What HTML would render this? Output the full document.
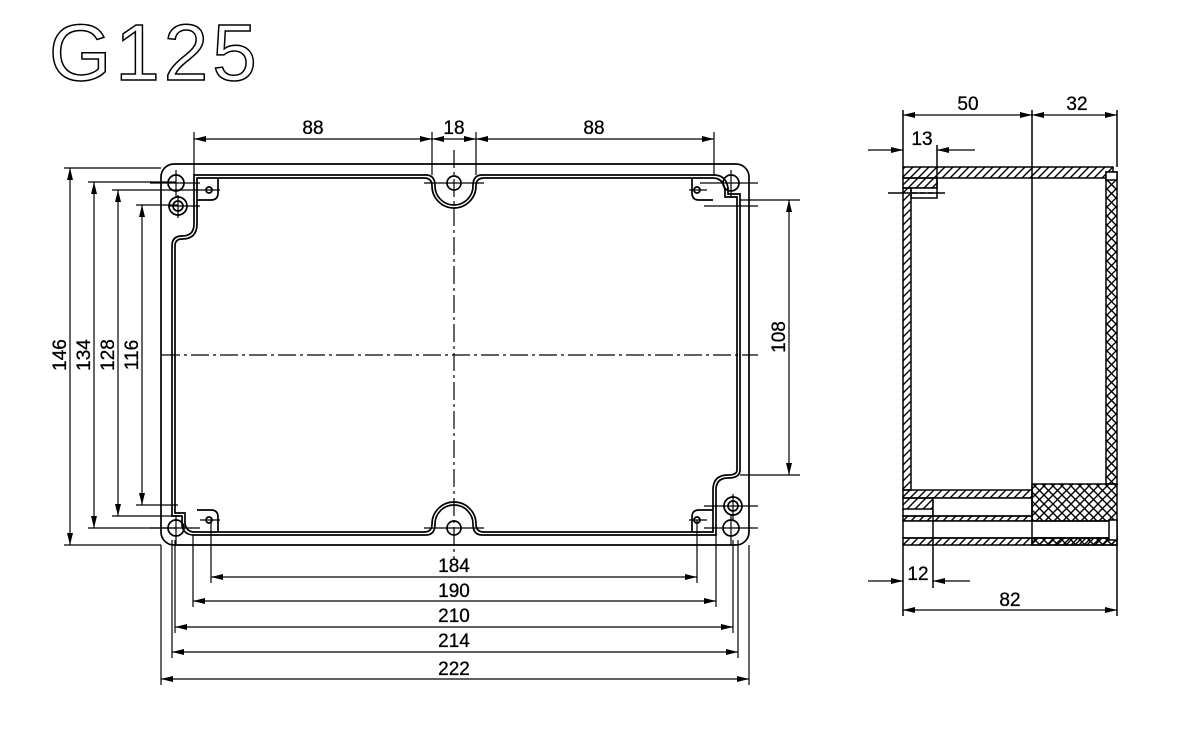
<!DOCTYPE html>
<html><head><meta charset="utf-8"><style>html,body{margin:0;padding:0;background:#fff}svg{display:block}</style></head><body>
<svg width="1178" height="732" viewBox="0 0 1178 732" xmlns="http://www.w3.org/2000/svg" font-family="Liberation Sans, sans-serif">
<defs>
<marker id="a" viewBox="0 0 12 6" refX="12" refY="3" markerWidth="12" markerHeight="6" orient="auto-start-reverse" markerUnits="userSpaceOnUse"><path d="M0,0L12,3L0,6z" fill="#000"/></marker>
<pattern id="h" width="8" height="8" patternUnits="userSpaceOnUse"><path d="M0,8L8,0M-2,2L2,-2M6,10L10,6" stroke="#000" stroke-width="1.4"/></pattern>
<pattern id="x" width="9" height="9" patternUnits="userSpaceOnUse"><path d="M0,9L9,0M0,0L9,9" stroke="#000" stroke-width="1.4"/></pattern>
</defs>
<text x="49" y="80" font-size="80" fill="none" stroke="#000" stroke-width="1.5" letter-spacing="4">G125</text>
<g fill="none" stroke="#000" stroke-width="1.7">
<rect x="161" y="164" width="588" height="381" rx="13"/>
<path d="M194,175 H426 Q435,175 435,186 A19,19 0 0 0 473,186 Q473,175 482,175 H714 Q726,175 728,188 V194 H740 V470 Q740,478 728,478 Q716,478 716,490 V535 H482 Q473,535 473,524 A19,19 0 0 0 435,524 Q435,535 426,535 H194 Q184,535 182,526 V516 H172 V246 Q172,236 182,236 Q194,236 194,224 Z"/>
<path d="M197,178 H424 Q432,178 432,186 A22,22 0 0 0 476,186 Q476,178 484,178 H713 Q723,178 725,190 V197 H737 V470 Q737,475 728,475 Q713,475 713,490 V532 H484 Q476,532 476,524 A22,22 0 0 0 432,524 Q432,532 424,532 H194 Q187,532 185,524 V513 H175 V246 Q175,239 182,239 Q197,239 197,224 Z"/>
<path d="M197,200 H211 Q218,200 218,193 V178 M713,200 H699 Q692,200 692,193 V178 M197,510 H211 Q218,510 218,517 V532 M713,510 H699 Q692,510 692,517 V532"/>
<circle cx="176" cy="183" r="8"/><circle cx="178" cy="206" r="9"/><circle cx="178" cy="206" r="5"/>
<circle cx="454" cy="183" r="7"/><circle cx="731" cy="183" r="8"/>
<circle cx="176" cy="528" r="8"/><circle cx="454" cy="528" r="7"/><circle cx="731" cy="528" r="8"/>
<circle cx="733" cy="506" r="9"/><circle cx="733" cy="506" r="5"/>
<circle cx="209" cy="190" r="3"/><circle cx="697" cy="190" r="3"/><circle cx="209" cy="520" r="3"/><circle cx="697" cy="520" r="3"/>
</g>
<g stroke="#000" stroke-width="1.2">
<path d="M162,355H758M454,150V560" stroke-dasharray="18,4,3,4"/>
<path d="M150,183H200M168,206H200M150,528H200M700,183H758M704,206H758M704,506H758M704,528H758M176,170V198M178,195V218M731,170V198M176,515V545M731,515V545M733,494V520M424,183H484M424,528H484M200,190H220M689,190H707M200,520H220M689,520H707"/>
<path d="M194,132V175M432,132V175M476,132V175M714,132V175"/>
<path d="M64,168H161M88,182H176M112,190H200M136,205H178M64,545H161M88,528H176M112,516H175M136,505H178"/>
<path d="M740,200H800M740,475H800"/>
<path d="M211,520V583M193,535V607M175,540V633M172,540V658M161,545V685M697,520V583M716,535V607M733,540V633M738,540V658M749,545V685"/>
</g>
<g stroke="#000" stroke-width="1.2" fill="none">
<path d="M194,139H432" marker-start="url(#a)" marker-end="url(#a)"/>
<path d="M432,139H476" marker-start="url(#a)" marker-end="url(#a)"/>
<path d="M476,139H714" marker-start="url(#a)" marker-end="url(#a)"/>
<path d="M211,577H697" marker-start="url(#a)" marker-end="url(#a)"/>
<path d="M193,601H716" marker-start="url(#a)" marker-end="url(#a)"/>
<path d="M175,627H733" marker-start="url(#a)" marker-end="url(#a)"/>
<path d="M172,652H738" marker-start="url(#a)" marker-end="url(#a)"/>
<path d="M161,679H749" marker-start="url(#a)" marker-end="url(#a)"/>
<path d="M70,168V545" marker-start="url(#a)" marker-end="url(#a)"/>
<path d="M94,182V528" marker-start="url(#a)" marker-end="url(#a)"/>
<path d="M118,190V516" marker-start="url(#a)" marker-end="url(#a)"/>
<path d="M142,205V505" marker-start="url(#a)" marker-end="url(#a)"/>
<path d="M789,200V475" marker-start="url(#a)" marker-end="url(#a)"/>
</g>
<g font-size="19" text-anchor="middle" fill="#000" stroke="#000" stroke-width="0.3">
<text x="313" y="134">88</text><text x="454" y="134">18</text><text x="594" y="134">88</text>
<text x="454" y="572">184</text><text x="454" y="597">190</text><text x="454" y="622">210</text><text x="454" y="647">214</text><text x="454" y="675">222</text>
<text transform="translate(66,355) rotate(-90)">146</text>
<text transform="translate(90,355) rotate(-90)">134</text>
<text transform="translate(114,355) rotate(-90)">128</text>
<text transform="translate(138,355) rotate(-90)">116</text>
<text transform="translate(785,337) rotate(-90)">108</text>
<text x="968" y="110">50</text><text x="1077" y="110">32</text>
<text x="922" y="145">13</text><text x="918" y="580">12</text><text x="1010" y="606">82</text>
</g>
<g stroke="#000" stroke-width="1.5">
<rect x="903" y="167" width="210" height="11" fill="url(#h)"/>
<rect x="903" y="178" width="34" height="10" fill="url(#h)"/>
<rect x="911" y="188" width="26" height="10" fill="#fff"/>
<path d="M912,193H937" stroke-dasharray="5,3"/>
<rect x="903" y="188" width="8" height="302" fill="url(#h)"/>
<rect x="1106" y="172" width="11" height="312" fill="url(#x)"/>
<rect x="1106" y="172" width="11" height="8" fill="#fff"/>
<rect x="903" y="490" width="129" height="8" fill="url(#h)"/>
<rect x="903" y="498" width="30" height="12" fill="url(#h)"/>
<rect x="903" y="509" width="30" height="7" fill="#fff"/>
<rect x="933" y="498" width="99" height="18" fill="#fff"/>
<rect x="903" y="516" width="129" height="5" fill="url(#h)"/>
<rect x="903" y="521" width="214" height="17" fill="#fff"/>
<rect x="903" y="538" width="214" height="7" fill="url(#h)"/>
<rect x="1032" y="484" width="85" height="37" fill="url(#x)"/>
<rect x="1032" y="538" width="85" height="7" fill="url(#x)"/>
<rect x="1109" y="520" width="8" height="20" fill="#fff"/>
<path d="M1032,110V545M903,110V167M1117,110V167M937,145V188M933,516V588M903,545V616M1117,545V616M888,193H945"/>
</g>
<g stroke="#000" stroke-width="1.2" fill="none">
<path d="M903,115H1032" marker-start="url(#a)" marker-end="url(#a)"/>
<path d="M1032,115H1117" marker-start="url(#a)" marker-end="url(#a)"/>
<path d="M903,610H1117" marker-start="url(#a)" marker-end="url(#a)"/>
<path d="M868,150H903" marker-end="url(#a)"/><path d="M975,150H937" marker-end="url(#a)"/>
<path d="M868,581H903" marker-end="url(#a)"/><path d="M970,581H933" marker-end="url(#a)"/>
</g>
</svg>
</body></html>
